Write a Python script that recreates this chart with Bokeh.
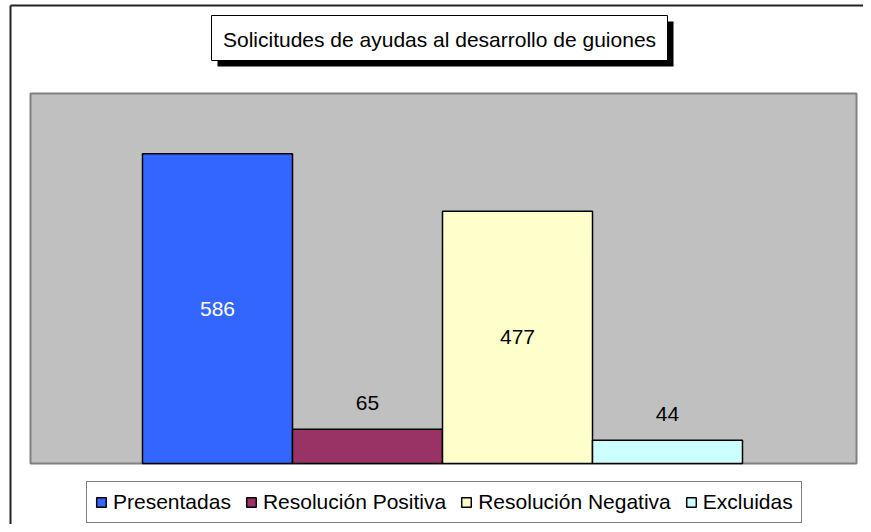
from bokeh.plotting import figure
from bokeh.models import ColumnDataSource, Range1d, Legend, LegendItem
from bokeh.core.properties import value
from bokeh.embed import file_html
from bokeh.resources import INLINE

# ---- data ----
title_text = "Solicitudes de ayudas al desarrollo de guiones"
categories = ["Presentadas", "Resolución Positiva", "Resolución Negativa", "Excluidas"]
counts = [586, 65, 477, 44]
colors = ["#3366FF", "#993366", "#FFFFCC", "#CCFFFF"]
label_colors = ["white", "black", "black", "black"]
y_max = 700

# ---- layout (screenshot pixels) ----
W, H = 863, 524
PAGE = 0
PLOT_L, PLOT_R, PLOT_T, PLOT_B = 30, 856, 93, 463
BAR_PX = 150
GROUP_C = 442
FONT = "Liberation Sans"
FS = "21px"


def sx2x(sx):
    return (sx - GROUP_C) / BAR_PX


def sy2y(sy):
    return (PLOT_B - sy) * y_max / (PLOT_B - PLOT_T)


px_per_unit = (PLOT_B - PLOT_T) / y_max
n = len(counts)
xs = [i - (n - 1) / 2 for i in range(n)]
label_y = [c / 2 if c > 200 else c + 26 / px_per_unit for c in counts]

src = ColumnDataSource(dict(x=xs, count=counts, color=colors, cat=categories,
                            ly=label_y, lc=label_colors,
                            label=[str(c) for c in counts]))

p = figure(width=W, height=H,
           x_range=Range1d(sx2x(PAGE), sx2x(PAGE + W)),
           y_range=Range1d(sy2y(PAGE + H), sy2y(PAGE)),
           x_axis_type=None, y_axis_type=None,
           toolbar_location=None, output_backend="svg",
           min_border=0, outline_line_color=None,
           background_fill_color="white", border_fill_color="white")

# outer chart border (left and top visible)
p.segment(x0=[sx2x(10), sx2x(10)], y0=[sy2y(PAGE + H), sy2y(5)],
          x1=[sx2x(10), sx2x(PAGE + W + 10)], y1=[sy2y(5), sy2y(5)],
          line_color="#222222", line_width=2)

# plot area
p.quad(left=[sx2x(PLOT_L)], right=[sx2x(PLOT_R)], bottom=[0], top=[y_max],
       fill_color="#C0C0C0", line_color="#808080", line_width=2)

# bars
bars = p.vbar(x="x", width=1, bottom=0, top="count", fill_color="color",
              line_color="black", line_width=1.5, source=src)

# value labels
p.text(x="x", y="ly", text="label", text_color="lc", text_align="center",
       text_baseline="middle", text_font=value(FONT), text_font_size=FS,
       source=src)

# title box with shadow
TX, TY, TW, TH = 439, 37.5, 456, 45
p.rect(x=[sx2x(TX + 6)], y=[sy2y(TY + 6)], width=TW, height=TH,
       width_units="screen", height_units="screen",
       fill_color="black", line_color=None)
p.rect(x=[sx2x(TX)], y=[sy2y(TY)], width=TW, height=TH,
       width_units="screen", height_units="screen",
       fill_color="white", line_color="black", line_width=1)
p.text(x=[sx2x(TX)], y=[sy2y(TY + 1)], text=[title_text], text_align="center",
       text_baseline="middle", text_font=value(FONT), text_font_size=FS,
       text_color="black")

# legend
items = [LegendItem(label=c, renderers=[bars], index=i) for i, c in enumerate(categories)]
legend = Legend(items=items, orientation="horizontal",
                location=(86 - PAGE, 1),
                glyph_width=12, glyph_height=12, label_standoff=6,
                spacing=14, padding=8, margin=0,
                border_line_color="black", border_line_width=1,
                background_fill_color="white", background_fill_alpha=1,
                label_text_font=FONT, label_text_font_size=FS,
                label_text_color="black", label_height=20)
p.add_layout(legend)

open("out.html", "w").write(file_html(p, INLINE))
